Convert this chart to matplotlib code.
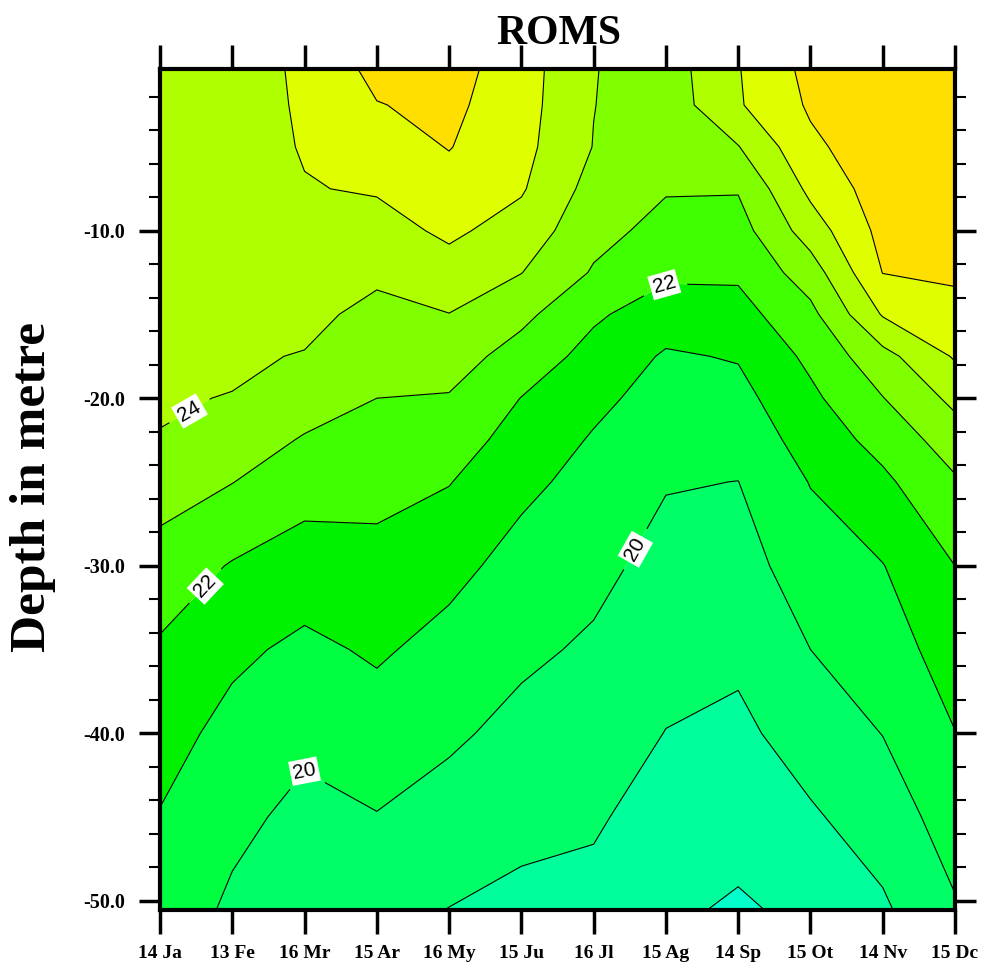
import numpy as np
import matplotlib.pyplot as plt
from matplotlib.colors import ListedColormap, BoundaryNorm
from matplotlib.ticker import MultipleLocator

# monthly climatology of temperature (deg C) against depth
months = ["14 Ja", "13 Fe", "16 Mr", "15 Ar", "16 My", "15 Ju",
          "16 Jl", "15 Ag", "14 Sp", "15 Ot", "14 Nv", "15 Dc"]
depths = [-0.35, -2.5, -5, -7.5, -10, -12.5, -15, -17.5, -20, -22.5,
          -25, -30, -35, -40, -45, -50.55]

jan = [24.5, 24.45, 24.4, 24.35, 24.3, 24.23, 24.17, 24.1, 24.05, 23.98,
       23.47, 22.58, 21.87, 21.38, 20.95, 20.7]
feb = [24.6, 24.57, 24.52, 24.47, 24.4, 24.32, 24.22, 24.1, 23.98, 23.5,
       23.02, 21.93, 21.2, 20.7, 20.28, 19.8]
mar = [25.15, 25.12, 25.07, 24.95, 24.71, 24.47, 24.22, 23.96, 23.44, 22.92,
       22.42, 21.52, 20.79, 20.24, 19.71, 19.15]
apr = [26.3, 25.96, 25.53, 25.09, 24.63, 24.17, 23.76, 23.38, 23.0, 22.65,
       22.31, 21.69, 21.13, 20.55, 19.96, 19.3]
may = [26.4, 26.23, 26.04, 25.64, 25.18, 24.62, 23.98, 23.45, 22.93, 22.48,
       22.04, 21.28, 20.68, 20.16, 19.61, 18.98]
jun = [25.45, 25.4, 25.3, 25.1, 24.6, 24.02, 23.25, 22.59, 21.98, 21.6,
       21.22, 20.66, 20.19, 19.72, 19.27, 18.76]
jul = [24.04, 24.02, 23.97, 23.64, 23.3, 22.91, 22.15, 21.66, 21.24, 20.91,
       20.69, 20.26, 19.86, 19.49, 19.12, 18.71]
aug = [23.5, 23.42, 23.3, 23.07, 22.71, 22.19, 21.48, 20.89, 20.61, 20.33,
       20.06, 19.68, 19.33, 18.98, 18.59, 18.16]
sep = [24.95, 24.9, 23.96, 23.07, 22.6, 22.16, 21.64, 21.07, 20.69, 20.34,
       19.99, 19.6, 19.2, 18.79, 18.36, 17.88]
oct_ = [26.3, 26.13, 25.8, 25.24, 24.48, 23.5, 22.73, 22.22, 21.79, 21.42,
        21.04, 20.52, 20.0, 19.44, 18.88, 18.21]
nov = [26.7, 26.66, 26.6, 26.5, 26.3, 26.02, 25.08, 23.67, 22.97, 22.33,
       21.8, 20.97, 20.5, 20.02, 19.47, 18.85]
dec = [26.6, 26.57, 26.52, 26.43, 26.3, 26.12, 25.76, 25.1, 24.25, 23.5,
       22.88, 22.0, 21.49, 20.98, 20.46, 19.9]

levels = [17, 18, 19, 20, 21, 22, 23, 24, 25, 26, 27]
band_colors = ["#00FFCC", "#00FF9C", "#00FF66", "#00FF40", "#00F200",
               "#40FF00", "#7FFF00", "#AFFF00", "#DFFF00", "#FFDF00"]

# where the inline labels sit (month index, depth)
label_spots = [(0.48, -21.3), (0.55, -30.9), (2.0, -41.6),
               (7.0, -13.4), (6.53, -28.9)]

temp = np.array([jan, feb, mar, apr, may, jun, jul, aug, sep, oct_, nov, dec]).T
x = np.arange(len(months))

serif = "Liberation Serif"

fig = plt.figure(figsize=(9.85, 9.73), dpi=100)
ax = fig.add_axes([160 / 985, 63 / 973, 795 / 985, 841 / 973])

cmap = ListedColormap(band_colors)
norm = BoundaryNorm(levels, cmap.N)
ax.contourf(x, depths, temp, levels=levels, cmap=cmap, norm=norm, antialiased=True)
cs = ax.contour(x, depths, temp, levels=levels, colors="black", linewidths=0.8)
labels = ax.clabel(cs, manual=label_spots, inline=True,
                   fmt="%d", fontsize=15, inline_spacing=10)
for t in labels:
    t.set_fontfamily("Liberation Sans")
    t.set_bbox(dict(facecolor="white", edgecolor="none", pad=2))

ax.set_xlim(0, len(months) - 1)
ax.set_ylim(depths[-1], depths[0])

# axes frame and ticks
for side in ax.spines.values():
    side.set_linewidth(3)
ax.set_xticks(x)
ax.set_xticklabels(months, fontfamily=serif, fontweight="bold", fontsize=14)
ax.set_yticks([-10, -20, -30, -40, -50])
ax.set_yticklabels(["-10.0", "-20.0", "-30.0", "-40.0", "-50.0"],
                   fontfamily=serif, fontweight="bold", fontsize=14.5)
ax.yaxis.set_minor_locator(MultipleLocator(2))
ax.tick_params(axis="x", which="major", direction="out", length=17, width=2.5,
               top=True, bottom=True, labeltop=False, pad=8)
ax.tick_params(axis="y", which="major", direction="out", length=15, width=2.5,
               left=True, right=True, labelright=False, pad=10)
ax.tick_params(axis="y", which="minor", direction="out", length=8, width=1.5,
               left=True, right=True)

fig.text(559 / 985, 1 - 44 / 973, "ROMS", ha="center", va="baseline",
         fontsize=30, fontweight="bold", fontfamily=serif)
fig.text(33 / 985, 1 - 487 / 973, "Depth in metre", ha="center", va="center",
         rotation=90, fontsize=37, fontweight="bold", fontfamily=serif)

fig.savefig("out.png", dpi=100)
